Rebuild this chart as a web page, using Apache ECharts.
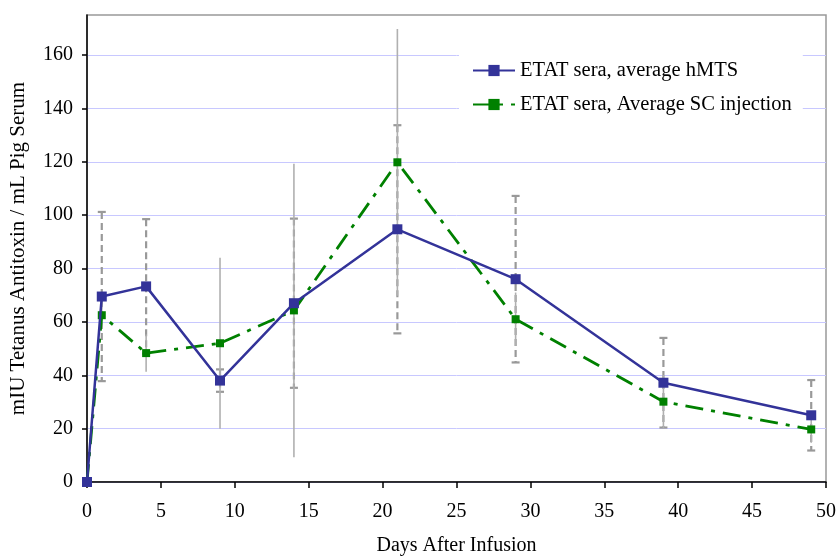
<!DOCTYPE html>
<html>
<head>
<meta charset="utf-8">
<script src="https://cdn.jsdelivr.net/npm/echarts@6/dist/echarts.min.js"></script>
<style>html,body{margin:0;padding:0;background:#fff}#c{width:838px;height:556px}</style>
</head>
<body>
<div id="c"></div>
<script>
var days = [0, 1, 4, 9, 14, 21, 29, 39, 49];
var hmts = [0, 69.5, 73.3, 38, 67, 94.7, 76, 37.2, 25];
var hmtsErr = [0, 31.7, 25.2, 4.2, 31.7, 39, 31.2, 16.8, 13.2];
var sc = [0, 62.5, 48.3, 52, 64.3, 119.8, 61, 30.1, 19.7];
var scErr = [0, 4, 7, 32, 55, 50, 10, 10, 5];
var xTicks = [0, 5, 10, 15, 20, 25, 30, 35, 40, 45, 50];
var yTicks = [0, 20, 40, 60, 80, 100, 120, 140, 160];
var nameA = 'ETAT sera, average hMTS';
var nameB = 'ETAT sera, Average SC injection';

var FONT = '"Liberation Serif", "Times New Roman", serif';

function pairs(xs, ys) { return xs.map(function (x, i) { return [x, ys[i]]; }); }
function errData(xs, ys, es) {
  var out = [];
  xs.forEach(function (x, i) { if (es[i] > 0) out.push([x, ys[i] - es[i], ys[i] + es[i]]); });
  return out;
}
function errRender(color, width, dash, cap) {
  return function (params, api) {
    var x = api.value(0), lo = api.value(1), hi = api.value(2);
    var a = api.coord([x, hi]), b = api.coord([x, lo]);
    var style = { stroke: color, lineWidth: width, lineDash: dash };
    var kids = [{ type: 'line', shape: { x1: a[0], y1: a[1], x2: b[0], y2: b[1] }, style: style }];
    if (cap) {
      var cs = { stroke: color, lineWidth: width };
      kids.push({ type: 'line', shape: { x1: a[0] - cap, y1: a[1], x2: a[0] + cap, y2: a[1] }, style: cs });
      kids.push({ type: 'line', shape: { x1: b[0] - cap, y1: b[1], x2: b[0] + cap, y2: b[1] }, style: cs });
    }
    return { type: 'group', children: kids };
  };
}

var chart = echarts.init(document.getElementById('c'), null, { renderer: 'canvas' });
chart.setOption({
  animation: false,
  backgroundColor: '#fff',
  textStyle: { fontFamily: FONT },
  grid: { left: 87, right: 12, top: 15, bottom: 74, containLabel: false, outerBoundsMode: 'none', show: true, borderColor: '#999', borderWidth: 1.5, backgroundColor: 'transparent' },
  legend: {
    orient: 'vertical', left: 459, top: 45,
    backgroundColor: '#fff', padding: [15, 11, 4, 13],
    itemWidth: 42, itemHeight: 14, itemGap: 13,
    textStyle: { fontFamily: FONT, fontSize: 20.5, color: '#000', lineHeight: 20 },
    data: [nameA, nameB]
  },
  xAxis: {
    type: 'value', min: 0, max: 50, interval: 5,
    name: 'Days After Infusion', nameLocation: 'middle', nameGap: 54,
    nameTextStyle: { fontFamily: FONT, fontSize: 20, color: '#000' },
    axisLine: { lineStyle: { color: '#000', width: 1.5 } },
    axisTick: { show: true, inside: false, length: 6, lineStyle: { color: '#000', width: 1.5 }, customValues: xTicks },
    axisLabel: { fontFamily: FONT, fontSize: 20, color: '#000', margin: 20, customValues: xTicks },
    splitLine: { show: false }
  },
  yAxis: {
    type: 'value', min: 0, max: 175, interval: 20,
    name: 'mIU Tetanus Antitoxin / mL Pig Serum', nameLocation: 'middle', nameGap: 58, nameRotate: 90,
    nameTextStyle: { fontFamily: FONT, fontSize: 21, color: '#000' },
    axisLine: { show: true, lineStyle: { color: '#000', width: 1.5 } },
    axisTick: { show: true, inside: false, length: 5, lineStyle: { color: '#000', width: 1.5 }, customValues: yTicks },
    axisLabel: { fontFamily: FONT, fontSize: 20, color: '#000', margin: 14, customValues: yTicks },
    splitLine: { show: true, lineStyle: { color: '#c8c8ff', width: 1 } }
  },
  series: [
    {
      type: 'custom', name: 'errA', z: 1, silent: true,
      renderItem: errRender('#999999', 2.2, [7, 4], 4),
      encode: { x: 0, y: [1, 2] },
      data: errData(days, hmts, hmtsErr)
    },
    {
      type: 'custom', name: 'errB', z: 1, silent: true,
      renderItem: errRender('#b0b0b0', 1.6, null, 0),
      encode: { x: 0, y: [1, 2] },
      data: errData(days, sc, scErr)
    },
    {
      type: 'line', name: nameA, z: 3,
      data: pairs(days, hmts),
      symbol: 'rect', symbolSize: 10, showSymbol: true,
      itemStyle: { color: '#333399' },
      lineStyle: { color: '#333399', width: 2.5 }
    },
    {
      type: 'line', name: nameB, z: 2,
      data: pairs(days, sc),
      symbol: 'rect', symbolSize: 8, showSymbol: true,
      itemStyle: { color: '#008000' },
      lineStyle: { color: '#008000', width: 2.8, type: [18, 8, 4, 8] }
    }
  ]
});
</script>
</body>
</html>
